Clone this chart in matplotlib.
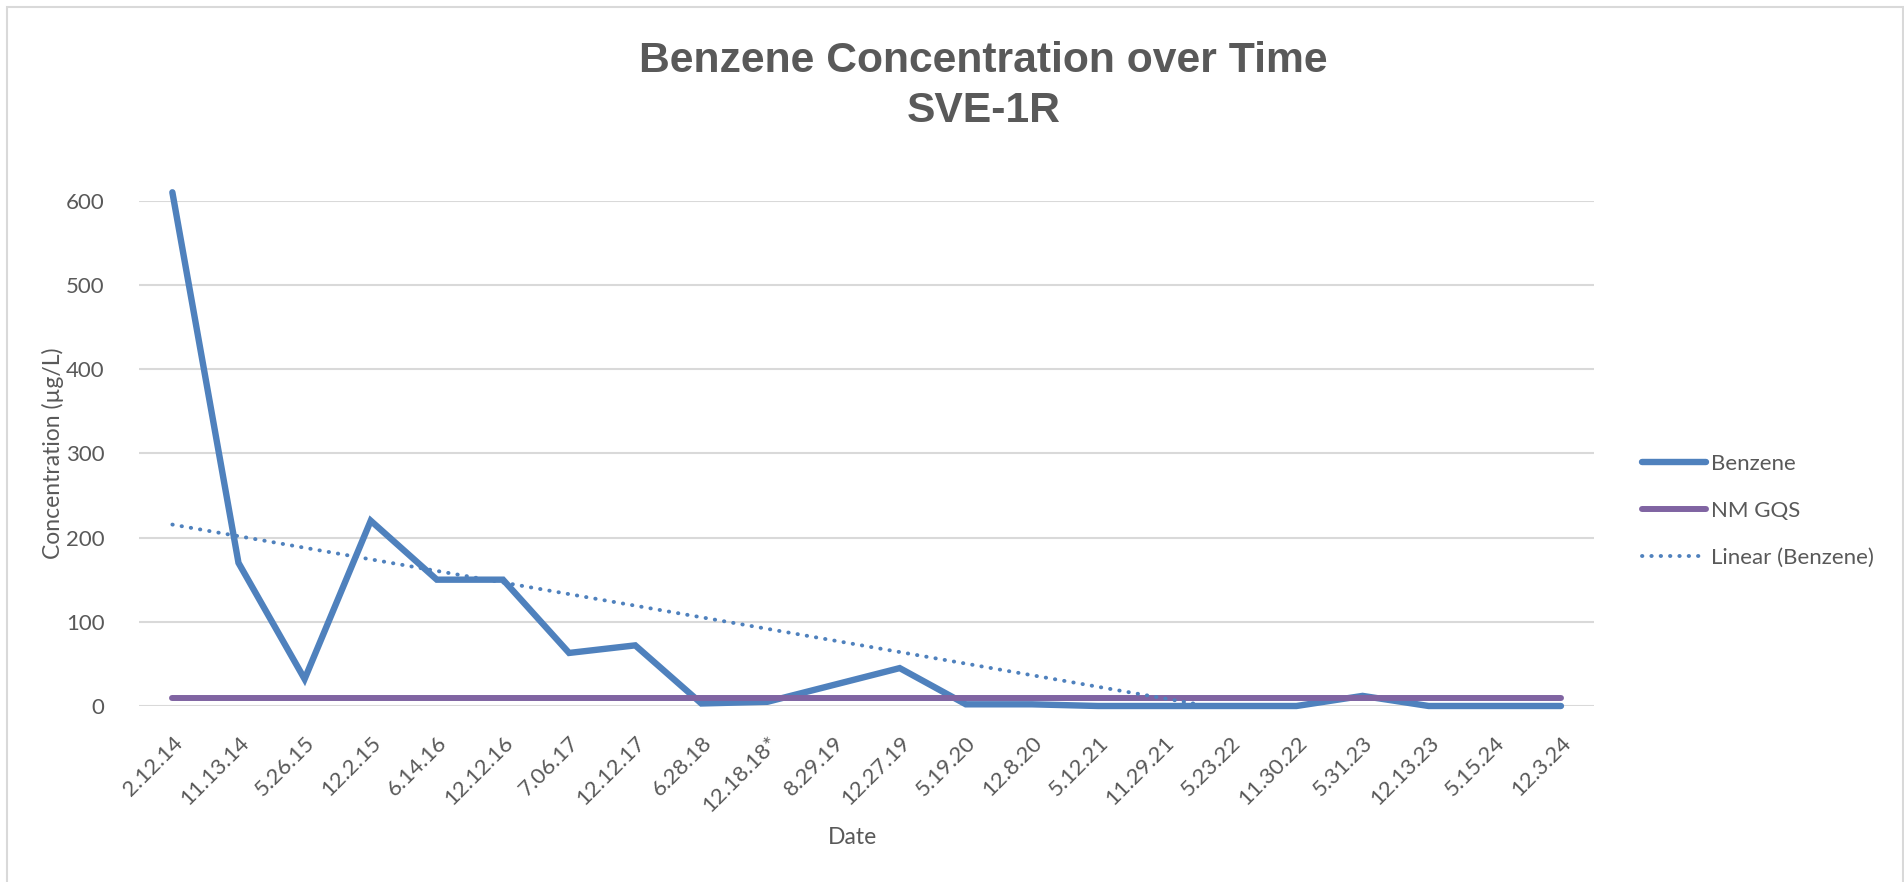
import matplotlib
matplotlib.use("Agg")
import matplotlib.pyplot as plt
import numpy as np

# data
dates = ["2.12.14", "11.13.14", "5.26.15", "12.2.15", "6.14.16", "12.12.16",
         "7.06.17", "12.12.17", "6.28.18", "12.18.18*", "8.29.19", "12.27.19",
         "5.19.20", "12.8.20", "5.12.21", "11.29.21", "5.23.22", "11.30.22",
         "5.31.23", "12.13.23", "5.15.24", "12.3.24"]
benzene = [610, 170, 32, 220, 150, 150, 63, 72, 3, 5, 25, 45,
           2, 2, 0, 0, 0, 0, 12, 0, 0, 0]
nm_gqs = [10] * len(dates)
y_ticks = [0, 100, 200, 300, 400, 500, 600]

BLUE = "#4F81BD"
PURPLE = "#8064A2"
GREY_TXT = "#595959"
GRID = "#D9D9D9"
TICK_FONT = ["Lato", "DejaVu Sans"]

W, H = 1904, 882
fig = plt.figure(figsize=(W / 100, H / 100), dpi=100)

# chart-area border
fig.add_artist(plt.Rectangle((7 / W, -0.01), (1903 - 7) / W, 1.01 - 7 / H,
                             transform=fig.transFigure, fill=False,
                             edgecolor=GRID, linewidth=1.5))

left, right, top, bottom = 139.3, 1594, 200.7, 706
ax = fig.add_axes([left / W, 1 - bottom / H, (right - left) / W, (bottom - top) / H])

x = np.arange(len(dates))

# linear trend, as the spreadsheet does it
k, b = np.polyfit(x, benzene, 1)
trend = k * x + b

ax.plot(x, benzene, color=BLUE, lw=4.6, solid_capstyle="round",
        solid_joinstyle="miter", clip_on=False, zorder=3, label="Benzene")
ax.plot(x, nm_gqs, color=PURPLE, lw=4.3, solid_capstyle="round",
        clip_on=False, zorder=4, label="NM GQS")
ax.plot(x, trend, color=BLUE, lw=2.8, linestyle=(0, (0.1, 2.3)),
        dash_capstyle="round", zorder=5, label="Linear (Benzene)")

ax.set_xlim(-0.5, len(dates) - 0.5)
ax.set_ylim(0, 600)
ax.set_yticks(y_ticks)
ax.set_xticks(x)
ax.set_xticklabels(dates, rotation=45, ha="right", va="top",
                   rotation_mode="anchor", family=TICK_FONT, fontsize=16,
                   color=GREY_TXT)
ax.set_yticklabels([str(v) for v in y_ticks], family=TICK_FONT, fontsize=16,
                   color=GREY_TXT)
ax.tick_params(axis="both", length=0)
ax.tick_params(axis="y", pad=25)
ax.tick_params(axis="x", pad=19)
for s in ax.spines.values():
    s.set_visible(False)
ax.grid(axis="y", color=GRID, lw=1.5)
ax.set_axisbelow(True)

fig.text(53 / W, 1 - 453 / H, "Concentration (µg/L)", rotation=90,
         ha="center", va="center", family=TICK_FONT, fontsize=16.5, color=GREY_TXT)
fig.text(853 / W, 1 - 838 / H, "Date", ha="center", va="center",
         family=TICK_FONT, fontsize=16.5, color=GREY_TXT)

fig.text(983.6 / W, 1 - 71.7 / H, "Benzene Concentration over Time",
         ha="center", va="baseline", family=["Liberation Sans", "DejaVu Sans"],
         fontweight="bold", fontsize=30.7, color=GREY_TXT)
fig.text(983.6 / W, 1 - 121.7 / H, "SVE-1R",
         ha="center", va="baseline", family=["Liberation Sans", "DejaVu Sans"],
         fontweight="bold", fontsize=30.7, color=GREY_TXT)

leg = fig.legend(loc="upper left", bbox_to_anchor=(1622 / W, 1 - 434 / H),
                 frameon=False, prop={"family": TICK_FONT, "size": 16},
                 handlelength=2.9, handletextpad=0.2, labelspacing=1.22)
for t in leg.get_texts():
    t.set_color(GREY_TXT)

fig.savefig("out.png", dpi=100)
